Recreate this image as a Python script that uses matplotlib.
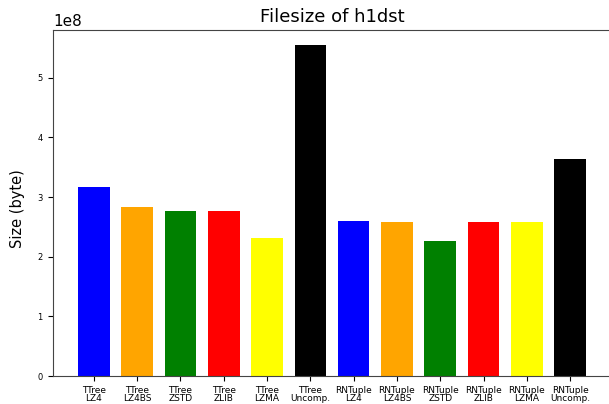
import matplotlib
matplotlib.use("Agg")
import matplotlib.pyplot as plt

categories = ["TTree\nLZ4", "TTree\nLZ4BS", "TTree\nZSTD", "TTree\nZLIB", "TTree\nLZMA", "TTree\nUncomp.",
              "RNTuple\nLZ4", "RNTuple\nLZ4BS", "RNTuple\nZSTD", "RNTuple\nZLIB", "RNTuple\nLZMA", "RNTuple\nUncomp."]
sizes = [3.17e8, 2.84e8, 2.76e8, 2.76e8, 2.32e8, 5.55e8,
         2.60e8, 2.58e8, 2.27e8, 2.58e8, 2.58e8, 3.64e8]
colors = ["blue", "orange", "green", "red", "yellow", "black",
          "blue", "orange", "green", "red", "yellow", "black"]

fig = plt.figure(figsize=(6.09, 4.04), dpi=100)
ax = fig.add_axes([53 / 609, 28 / 404, 558 / 609, 346 / 404])

x = list(range(len(categories)))
ax.bar(x, sizes, width=0.73, color=colors)
ax.set_xticks(x)
ax.set_xticklabels(categories, fontsize=6.5, linespacing=0.95)
ax.tick_params(axis="y", labelsize=6, pad=4)
ax.tick_params(length=3.5, width=0.8)
ax.set_xlim(-0.94, 11.0 + 0.94)
ax.set_ylim(0, 5.8e8)
ax.yaxis.get_offset_text().set_fontsize(11)
ax.set_ylabel("Size (byte)", fontsize=10.5)
ax.yaxis.set_label_coords(-0.05, 0.485)
ax.set_title("Filesize of h1dst", fontsize=13, pad=6)
for s in ax.spines.values():
    s.set_color("#444444")

fig.savefig("out.png", dpi=100)
